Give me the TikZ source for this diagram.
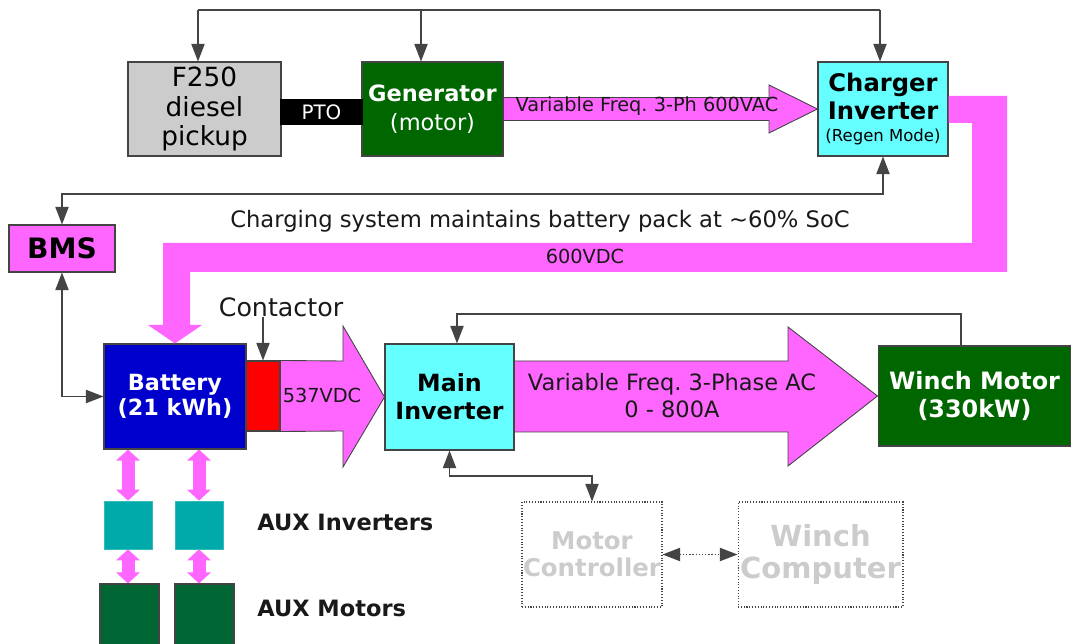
\documentclass[tikz,border=0pt]{standalone}
\usepackage{fontspec}
\setmainfont{DejaVu Sans}
\usetikzlibrary{arrows.meta, calc}
\definecolor{truckgray}{RGB}{204, 204, 204}
\definecolor{gengreen}{RGB}{0, 102, 0}
\definecolor{powerpink}{RGB}{255, 102, 255}
\definecolor{invcyan}{RGB}{102, 255, 255}
\definecolor{battblue}{RGB}{0, 0, 204}
\definecolor{auxteal}{RGB}{0, 170, 170}
\definecolor{auxgreen}{RGB}{0, 102, 51}
\definecolor{ctrlgray}{RGB}{204, 204, 204}
\definecolor{edge}{RGB}{68, 68, 68}
\frenchspacing

\begin{document}
\begin{tikzpicture}[x=0.02cm, y=-0.02cm,
            % one unit is one pixel of the sketch, y grows downwards
            >={Triangle[length=10pt, width=7.5pt]},
            % Define reusable styles for the blocks and the links
            box/.style={draw=edge, line width=0.6pt, inner sep=0pt, align=center},
            ctrl/.style={box, densely dotted, text=ctrlgray, minimum height=21mm},
            auxinv/.style={fill=auxteal, draw=auxteal!80!white, minimum width=9.6mm, minimum height=9.6mm},
            auxmot/.style={fill=auxgreen, draw=edge, line width=0.6pt, minimum width=11.8mm, minimum height=13.2mm},
            wire/.style={draw=edge, line width=0.8pt},
            sig/.style={wire, ->},
            dsig/.style={wire, <->},
            pwr/.style={fill=powerpink, draw=edge, line width=0.5pt, line join=miter},
            auxlink/.style={draw=powerpink, line width=2.6mm,
                {Triangle[length=2.2mm, width=4.6mm]}-{Triangle[length=2.2mm, width=4.6mm]}},
            lbl/.style={inner sep=0pt, text=black!90}
        ]

        \path[fill=white, use as bounding box] (0,0) rectangle (1071,644);

        % Charging side
        \node[box, fill=truckgray, minimum width=30.6mm, minimum height=18.8mm,
              font=\fontsize{15}{17}\selectfont] (truck) at (204.5,109) {F250\\diesel\\pickup};
        \node[box, fill=gengreen, text=white, minimum width=28.2mm, minimum height=18.8mm,
              font=\fontsize{12.8}{16.5}\selectfont] (gen) at (432.5,109) {\textbf{Generator}\\(motor)};
        \node[box, fill=black, draw=black, text=white, minimum width=16.2mm, minimum height=4.8mm,
              font=\fontsize{11.3}{13}\selectfont] (pto) at (321.5,112) {PTO};
        \node[box, fill=invcyan, minimum width=26mm, minimum height=18.8mm,
              font=\bfseries\fontsize{13.8}{16}\selectfont] (chg) at (883,109)
              {Charger\\Inverter\\[-3.5pt]{\mdseries\fontsize{9.4}{11}\selectfont (Regen Mode)}};
        \node[box, fill=powerpink, minimum width=21.2mm, minimum height=9.4mm,
              font=\bfseries\fontsize{16}{19}\selectfont] (bms) at (62,248.5) {BMS};

        % Drive side
        \node[box, fill=battblue, text=white, minimum width=28.4mm, minimum height=21mm,
              font=\bfseries\fontsize{12.7}{14.5}\selectfont] (batt) at (175,396.5) {Battery\\(21 kWh)};
        \node[box, fill=red, minimum width=6.8mm, minimum height=14mm] (cont) at (263,396) {};
        \node[box, fill=invcyan, minimum width=25.8mm, minimum height=21.2mm,
              font=\bfseries\fontsize{13.5}{16}\selectfont] (inv) at (449.5,397) {Main\\Inverter};
        \node[box, fill=gengreen, text=white, minimum width=38.6mm, minimum height=20mm,
              font=\bfseries\fontsize{13.6}{16}\selectfont] (winch) at (974.5,396) {Winch Motor\\(330kW)};
        \node[ctrl, minimum width=28mm, font=\bfseries\fontsize{13.9}{15.3}\selectfont]
              (mc) at (592,554.5) {Motor\\Controller};
        \node[ctrl, minimum width=33mm, font=\bfseries\fontsize{16.5}{18.7}\selectfont]
              (wc) at (820.5,554.5) {Winch\\Computer};

        % Power flows
        \draw[pwr] ($(gen.east)+(0,-11.5)$) -- (769,97.5) -- (769,85) -- (chg.west)
              -- (769,133) -- (769,120.5) -- ($(gen.east)+(0,11.5)$) -- cycle;
        \fill[powerpink] ($(chg.east)+(0,-13)$) -- (1007,96) -- (1007,272) -- (190,272)
              -- (190,325) -- (202,325) -- (batt.north) -- (148,325) -- (163,325)
              -- (163,243) -- (972,243) -- (972,123) -- ($(chg.east)+(0,14)$) -- cycle;
        \draw[pwr] (cont.north east) -- (343,361) -- (343,326) -- (inv.west)
              -- (343,467) -- (343,431) -- (cont.south east) -- cycle;
        \draw[pwr] ($(inv.east)+(0,-36)$) -- (788,361) -- (788,327) -- (winch.west)
              -- (788,466) -- (788,432) -- ($(inv.east)+(0,35)$) -- cycle;

        \node[lbl, anchor=base, font=\fontsize{11}{13}\selectfont] (aclbl) at (647,112) {Variable Freq. 3-Ph 600VAC};
        \node[lbl, anchor=base, font=\fontsize{11}{13}\selectfont] (dclbl) at (585,264) {600VDC};
        \node[lbl, anchor=base, font=\fontsize{11}{13}\selectfont] (vdclbl) at (322,403) {537VDC};
        \node[lbl, align=center, font=\fontsize{12.8}{15.3}\selectfont] (drvlbl) at (672,396)
              {Variable Freq. 3-Phase AC\\0 - 800A};

        % Control links
        \coordinate (busT) at (198,10);
        \coordinate (busG) at (421,10);
        \coordinate (busC) at (880,10);
        \draw[wire] (busT) -- (busC);
        \draw[sig] (busT) -- (busT |- truck.north);
        \draw[sig] (busG) -- (busG |- gen.north);
        \draw[sig] (busC) -- (busC |- chg.north);

        \coordinate (socbus) at (60,194);
        \draw[dsig] (bms.north) |- (socbus -| chg.south) -- (chg.south);
        \draw[dsig] (bms.south) |- (batt.west);
        \node[lbl, anchor=base, font=\fontsize{12.9}{15}\selectfont] (soclbl) at (540,228)
              {Charging system maintains battery pack at \textasciitilde60\% SoC};

        \node[lbl, font=\fontsize{14.4}{16}\selectfont] (contlbl) at (281,307) {Contactor};
        \draw[sig] (cont.north |- contlbl.south) -- (cont.north);

        \coordinate (wtap) at (961,314);
        \coordinate (itap) at (457,314);
        \draw[sig] (wtap |- winch.north) -- (wtap) -- (itap) -- (itap |- inv.north);

        \coordinate (mctap) at (450,476);
        \draw[dsig] (inv.south) |- (mctap -| mc.north) -- (mc.north);
        \draw[dsig, densely dotted] (mc.east) -- (wc.west);

        % Auxiliary inverters and motors
        \foreach \i/\xi/\xm in {1/128/129.5, 2/199/204.5} {
            \node[auxinv] (ai\i) at (\xi,525) {};
            \node[auxmot] (am\i) at (\xm,617) {};
            \draw[auxlink] (ai\i.north |- batt.south) -- (ai\i.north);
            \draw[auxlink] (ai\i.south) -- (ai\i.south |- am\i.north);
        }
        \node[lbl, anchor=west, font=\bfseries\fontsize{12.8}{15}\selectfont] (ailbl) at (257,522) {AUX Inverters};
        \node[lbl, anchor=west, font=\bfseries\fontsize{12.8}{15}\selectfont] (amlbl) at (257,608) {AUX Motors};

\end{tikzpicture}
\end{document}
